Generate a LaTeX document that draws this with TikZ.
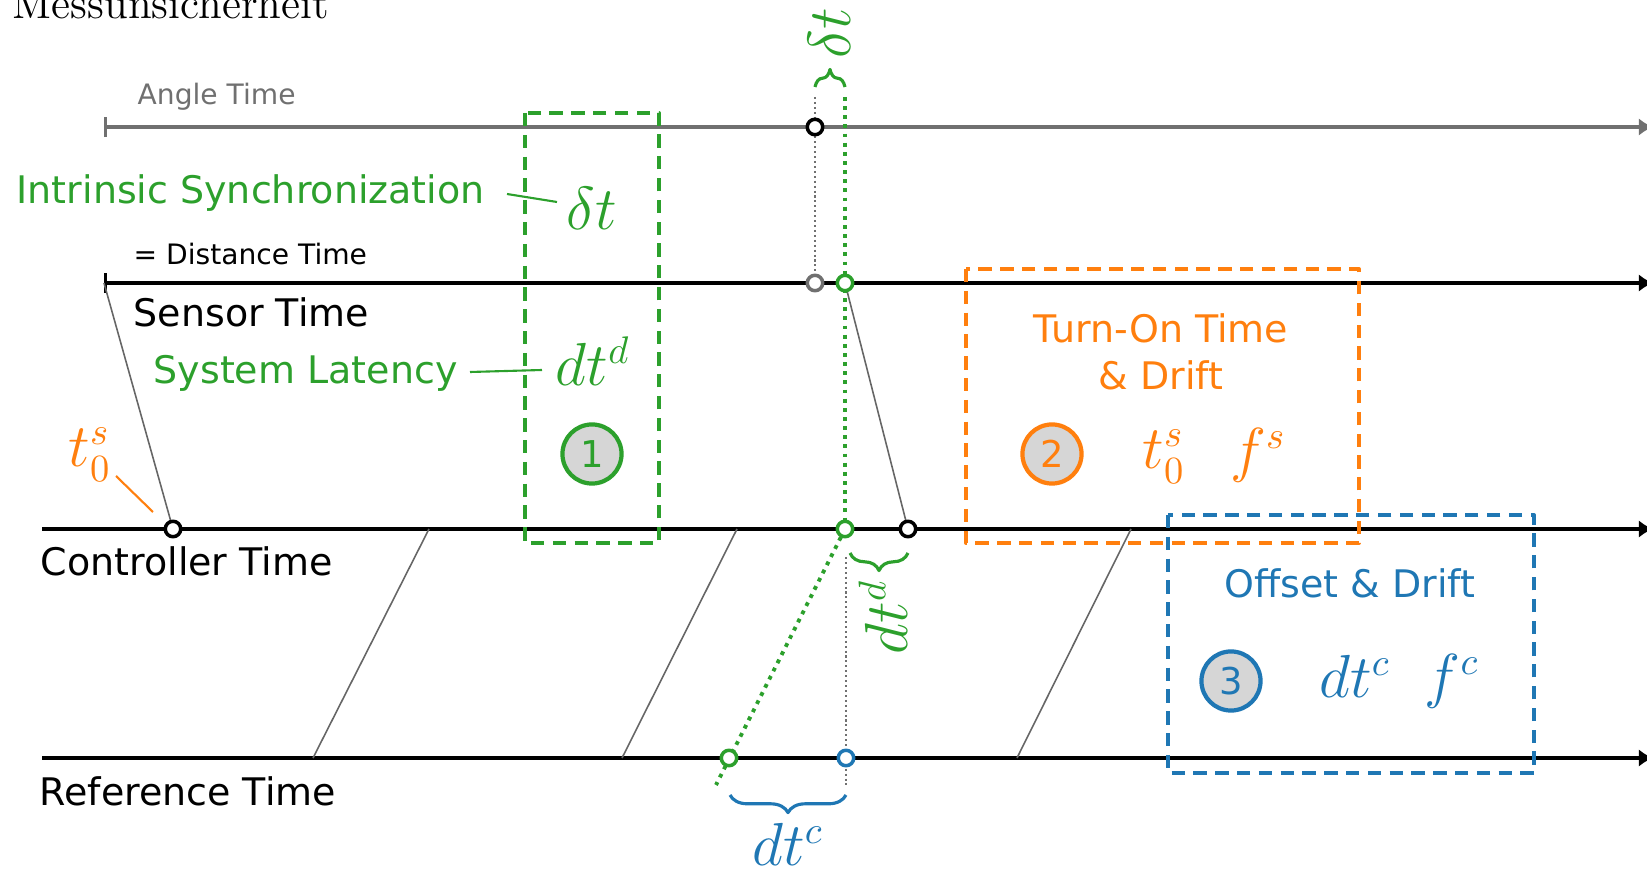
\documentclass[tikz,border=0pt]{standalone}
\usepackage{fontspec}
\setsansfont{DejaVu Sans}
\usetikzlibrary{arrows.meta}
\usetikzlibrary{decorations.pathreplacing}
\usetikzlibrary{positioning}

\tikzset{
  timeaxis/.style={line width=0.95pt, -{Latex[length=4pt,width=5pt]}},
  tickaxis/.style={line width=0.95pt, {Bar[width=5.7pt]}-{Latex[length=4pt,width=5pt]}},
  tpoint/.style={circle, draw, fill=white, line width=1pt, minimum size=4.4pt, inner sep=0pt},
  numcirc/.style={circle, draw, fill=circgray, line width=1.2pt, minimum size=16.8pt, inner sep=0pt, font=\sffamily\fontsize{10.5}{12}\selectfont},
  lbl/.style={font=\sffamily\fontsize{10.8}{13}\selectfont, inner sep=0pt},
  smalllbl/.style={font=\sffamily\fontsize{8}{10}\selectfont, inner sep=0pt},
  mathlbl/.style={font=\fontsize{16}{19}\selectfont, inner sep=0pt},
  regionbox/.style={line width=1.1pt, dash pattern=on 3.8pt off 2.4pt},
  slant/.style={draw=slantgray, line width=0.45pt},
  leader/.style={line width=0.6pt},
  timebrace/.style={decorate, decoration={brace, amplitude=5pt}, line width=0.9pt}
}

\begin{document}
\begin{tikzpicture}[x=0.01cm, y=-0.01cm, line join=round]

\definecolor{mplgreen}{HTML}{2CA02C}
\definecolor{mplorange}{HTML}{FF7F0E}
\definecolor{mplblue}{HTML}{1F77B4}
\definecolor{anglegray}{HTML}{707070}
\definecolor{slantgray}{HTML}{666666}
\definecolor{circgray}{HTML}{D6D6D6}

\clip (0,0) rectangle (1647,870);

\node[anchor=base west, inner sep=0pt, font=\fontsize{12.4}{15}\selectfont] (title) at (12,19) {Messunsicherheit};

\coordinate (aAng) at (815,127);
\coordinate (sGray) at (815,283);
\coordinate (sGreen) at (845,283);
\coordinate (sStart) at (104,283);
\coordinate (cStart) at (173,529);
\coordinate (cGreen) at (845,529);
\coordinate (cBlack) at (908,529);
\coordinate (rGreen) at (729,758);
\coordinate (rBlue) at (846,758);

\draw[tickaxis, anglegray] (104,127) -- (1653,127);
\draw[tickaxis] (sStart) -- (1653,283);
\draw[timeaxis] (42,529) -- (1653,529);
\draw[timeaxis] (42,758) -- (1653,758);

\node[smalllbl, anglegray, anchor=base west] (angle) at (137,105) {Angle Time};
\node[smalllbl, anchor=base west] (dist) at (133,265) {= Distance Time};
\node[lbl, anchor=base west] (sensor) at (133,327) {Sensor Time};
\node[lbl, anchor=base west] (ctrl) at (40,576) {Controller Time};
\node[lbl, anchor=base west] (ref) at (39,805) {Reference Time};

\draw[slant] (429,529) -- (313,758);
\draw[slant] (737,529) -- (622,758);
\draw[slant] (1131,529) -- (1017,758);
\draw[slant] (sStart) -- (cStart);
\draw[slant] (sGreen) -- (cBlack);

\draw[anglegray, line width=0.5pt, dash pattern=on 0.6pt off 0.8pt] (815,97) -- (sGray);
\draw[anglegray, line width=0.5pt, dash pattern=on 0.6pt off 0.8pt] (846,557) -- (846,785);
\draw[mplgreen, line width=1.1pt, dash pattern=on 1.1pt off 1.5pt] (845,97) -- (cGreen);
\draw[mplgreen, line width=1.1pt, dash pattern=on 1.1pt off 1.5pt] (cGreen) -- (716,785);

\node[tpoint] (pAng) at (aAng) {};
\node[tpoint, draw=anglegray] (pGray) at (sGray) {};
\node[tpoint, draw=mplgreen] (pSensor) at (sGreen) {};
\node[tpoint] (pStart) at (cStart) {};
\node[tpoint, draw=mplgreen] (pCtrl) at (cGreen) {};
\node[tpoint] (pLate) at (cBlack) {};
\node[tpoint, draw=mplgreen] (pRefG) at (rGreen) {};
\node[tpoint, draw=mplblue] (pRefB) at (rBlue) {};

\draw[timebrace, mplgreen] (815,87) -- (845,87);
\node[mathlbl, mplgreen, rotate=90] (dtop) at (829,33) {$\delta t$};
\draw[timebrace, mplgreen] (908,553) -- (850,553);
\node[mathlbl, mplgreen, rotate=90] (dtd) at (883,617) {$dt^d$};
\draw[timebrace, mplblue] (846,795) -- (730,795);
\node[mathlbl, mplblue, anchor=base] (dtc) at (788,866) {$dt^c$};

\draw[regionbox, mplgreen] (525,113) rectangle (659,543);
\node[lbl, mplgreen, anchor=base west] (intr) at (16,204) {Intrinsic Synchronization};
\coordinate (intrA) at (507,194);
\coordinate (intrB) at (557,202);
\draw[leader, mplgreen] (intrA) -- (intrB);
\node[mathlbl, mplgreen] (dtbox) at (592,208) {$\delta t$};
\node[lbl, mplgreen, anchor=base west] (lat) at (153,384) {System Latency};
\coordinate (latA) at (470,372);
\coordinate (latB) at (542,370);
\draw[leader, mplgreen] (latA) -- (latB);
\node[mathlbl, mplgreen] (dtdbox) at (593,361) {$dt^d$};
\node[numcirc, draw=mplgreen, text=mplgreen] (one) at (592,454) {1};

\node[mathlbl, mplorange] (tzero) at (90,455) {$t_0^s$};
\coordinate (tzA) at (116,476);
\coordinate (tzB) at (153,512);
\draw[leader, mplorange] (tzA) -- (tzB);

\draw[regionbox, mplorange] (966,269) rectangle (1359,543);
\node[lbl, mplorange, anchor=base] (turn) at (1161,343) {Turn-On Time};
\node[lbl, mplorange, anchor=base] (turnb) at (1161,390) {\& Drift};
\node[numcirc, draw=mplorange, text=mplorange] (two) at (1052,454) {2};
\node[mathlbl, mplorange] (tzbox) at (1164,457) {$t_0^s$};
\node[mathlbl, mplorange] (fs) at (1258,455) {$f^s$};

\draw[regionbox, mplblue] (1168,515) rectangle (1534,773);
\node[lbl, mplblue, anchor=base] (offs) at (1350,598) {Offset \& Drift};
\node[numcirc, draw=mplblue, text=mplblue] (three) at (1231,681) {3};
\node[mathlbl, mplblue] (dtcbox) at (1355,676) {$dt^c$};
\node[mathlbl, mplblue] (fc) at (1452,681) {$f^c$};

\end{tikzpicture}
\end{document}
